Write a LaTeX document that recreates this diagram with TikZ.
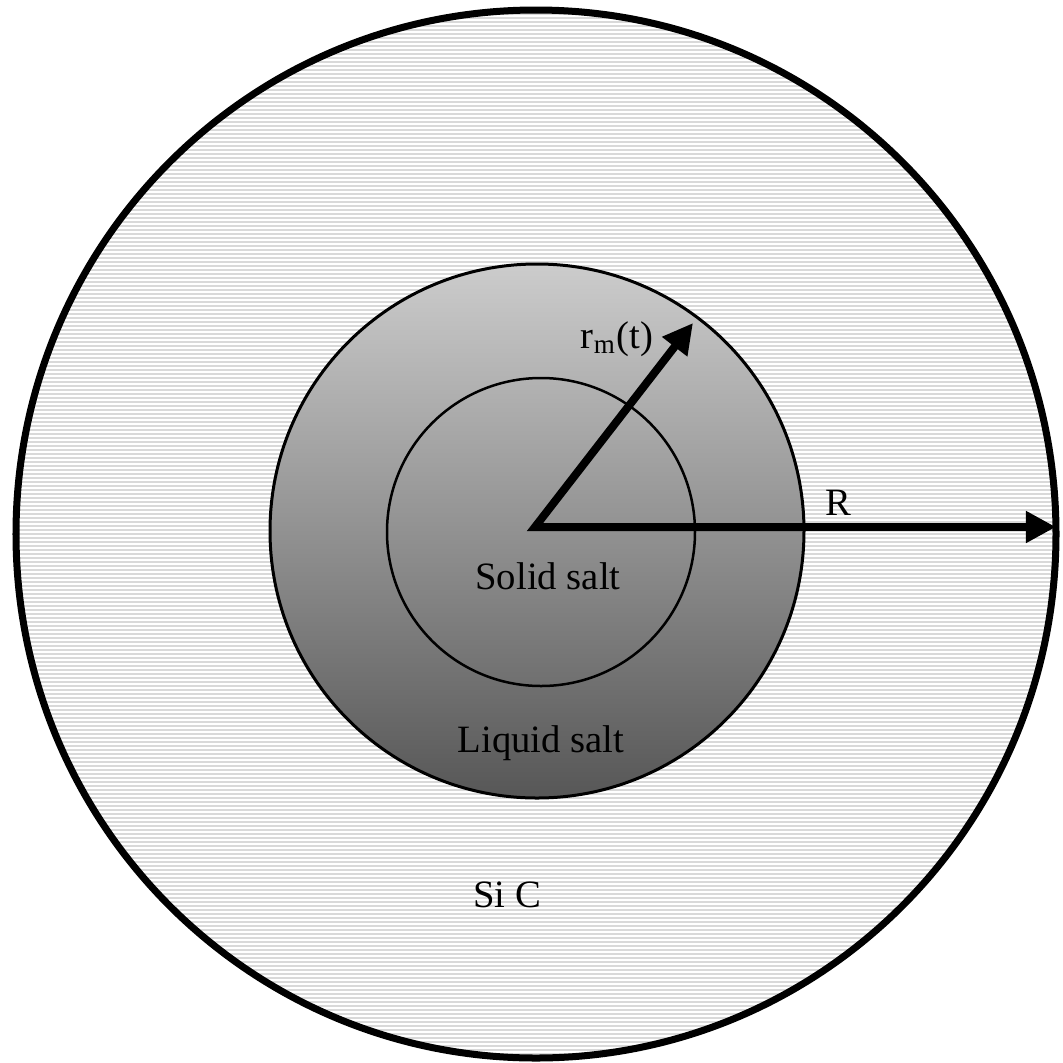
\documentclass[tikz,border=0pt]{standalone}
\usepackage{fontspec}
\setmainfont{Liberation Serif}
\usetikzlibrary{arrows.meta}

\begin{document}
\begin{tikzpicture}[
    x=0.01cm, y=-0.01cm,
    hatch/.style={draw=black!15, line width=0.02cm},
    ring/.style={draw=black, line width=#1},
    tag/.style={font=\fontsize{11}{13}\selectfont, inner sep=0pt, anchor=base},
    radiusarrow/.style={{Triangle[length=0.3cm, width=0.3cm]}-{Triangle[length=0.3cm, width=0.3cm]}, line width=0.08cm, line join=miter},
]
    \useasboundingbox (0,0) rectangle (1063,1063);

    % SiC shell with horizontal hatching
    \begin{scope}
        \clip (536,534) ellipse [x radius=520, y radius=524];
        \foreach \y in {10,14,...,1058}
            \draw[hatch] (0,\y) -- (1063,\y);
    \end{scope}
    \draw[ring=0.07cm] (536,534) ellipse [x radius=520, y radius=524];

    % Liquid salt
    \shade[top color=black!20, bottom color=black!66] (537,531) circle [radius=267];
    \draw[ring=0.03cm] (537,531) circle [radius=267];

    % Solid salt
    \draw[ring=0.025cm] (541,532) circle [radius=154];

    % Radii
    \coordinate (O) at (535,527);
    \coordinate (rmtip) at (693,323);
    \coordinate (Rtip) at (1056,527);
    \draw[radiusarrow] (rmtip) -- (O) -- (Rtip);

    % Labels
    \node[tag] (rm) at (617,348) {r\textsubscript{m}(t)};
    \node[tag] (R) at (838,515) {R};
    \node[tag] (solid) at (548,589) {Solid salt};
    \node[tag] (liquid) at (541,752) {Liquid salt};
    \node[tag] (sic) at (507,907) {Si C};

\end{tikzpicture}
\end{document}
